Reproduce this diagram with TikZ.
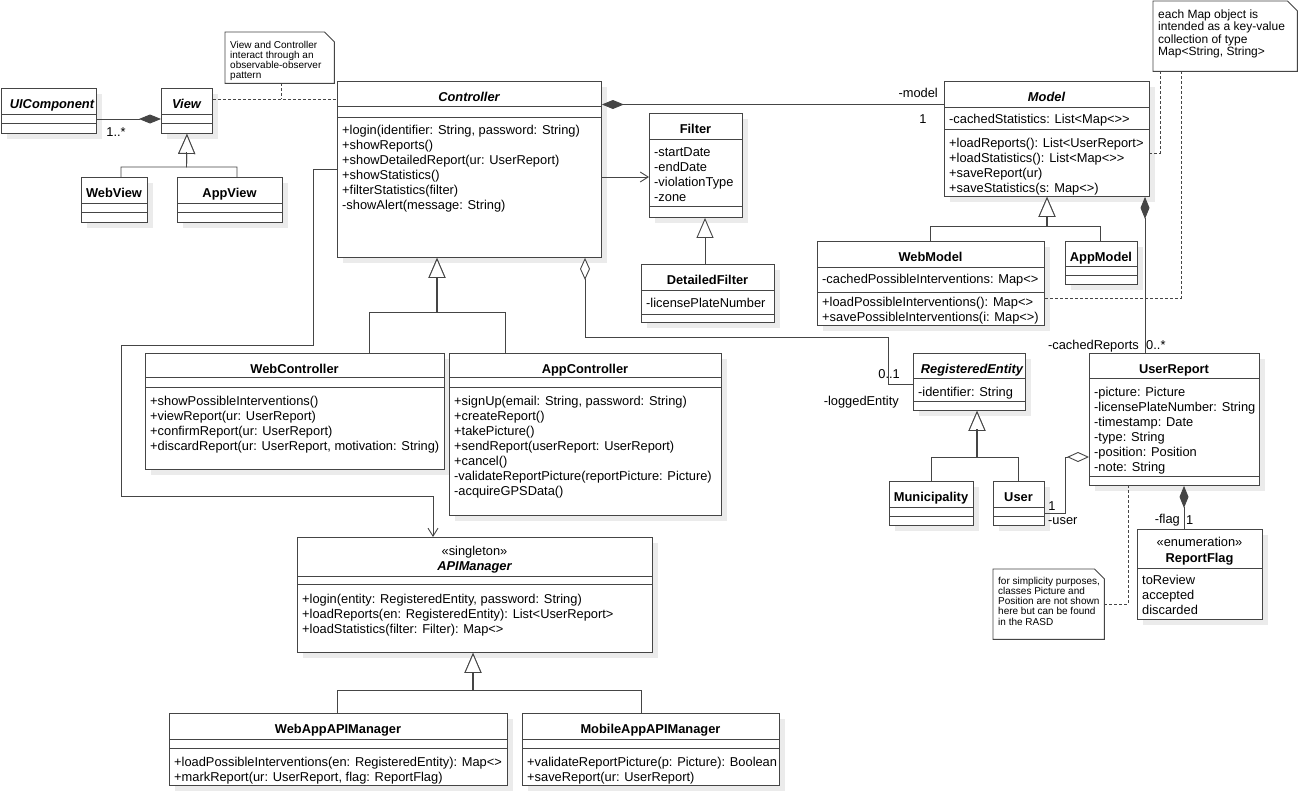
\documentclass[tikz,border=0pt]{standalone}
\usepackage{fontspec}
\setmainfont{Liberation Sans}
\usetikzlibrary{arrows.meta}
\definecolor{ln}{HTML}{454545}
\definecolor{shd}{HTML}{EBEBEB}
\newcommand\ml[1]{\begin{tabular}[t]{@{}l@{}}#1\end{tabular}}
\newcommand\umlbox[7]{%
  \fill[shd] (#2+6,#3+6) rectangle (#4+6,#5+6);
  \node[box, minimum width={#4-#2}, minimum height={#5-#3}] (#1) at (#2,#3) {};
  \draw[div] (#2,#6) -- (#4,#6) (#2,#7) -- (#4,#7);
}
\newcommand\umlnote[5]{%
  \node[inner sep=0, minimum width={#4-#2}, minimum height={#5-#3}, anchor=north west] (#1) at (#2,#3) {};
  \draw[div, fill=white] (#1.north west) -- ([xshift=-10pt]#1.north east) -- ([yshift=-10pt]#1.north east) -- (#1.south east) -- (#1.south west) -- cycle;
}
\tikzset{
 every node/.style={font=\fontsize{12.85}{15}\selectfont, inner sep=0},
 box/.style={draw=ln, line width=0.9pt, fill=white, inner sep=0, anchor=north west},
 div/.style={draw=ln, line width=0.9pt},
 ttl/.style={anchor=base, font=\fontsize{12.85}{15}\selectfont\bfseries},
 ttli/.style={anchor=base, font=\fontsize{12.85}{15}\selectfont\bfseries\itshape},
 mem/.style={anchor=base west},
 lbl/.style={anchor=center},
 con/.style={draw=ln, line width=0.9pt},
 stem/.style={draw=ln, line width=1.8pt},
 comp/.style={con, {Diamond[length=22pt,width=9pt,fill=ln]}-},
 aggr/.style={con, {Diamond[length=22pt,width=10pt,fill=white]}-},
 gen/.style={con, -{Triangle[length=20pt,width=17pt,fill=white]}},
 nav/.style={con, -{Straight Barb[length=8pt,width=10pt]}},
 dep/.style={draw=ln, line width=0.9pt, dash pattern=on 3pt off 2pt},
 notetxt/.style={anchor=base west, font=\fontsize{10}{9.7}\selectfont},
}
\begin{document}
\begin{tikzpicture}[x=1pt,y=-1pt]
\useasboundingbox (0,0) rectangle (1298,792);

% ---------- boxes ----------
\umlbox{uic}{1}{88}{96}{133}{114}{123}
\umlbox{view}{161}{88}{212}{133}{114}{123}
\umlbox{webview}{81}{177}{147}{222}{203}{212}
\umlbox{appview}{177}{177}{282}{222}{203}{212}
\umlbox{ctrl}{337}{81}{601}{257}{106}{117}
\umlbox{filter}{649}{113}{742}{217}{139}{206}
\umlbox{dfilter}{641}{264}{774}{322}{290}{314}
\umlbox{model}{944}{81}{1149}{196}{107}{129}
\umlbox{webmodel}{817}{241}{1044}{325}{267}{292}
\umlbox{appmodel}{1065}{241}{1137}{284}{266}{275}
\umlbox{regent}{913}{353}{1025}{410}{378}{401}
\umlbox{muni}{889}{481}{973}{525}{507}{516}
\umlbox{user}{993}{481}{1044}{525}{507}{516}
\umlbox{urep}{1089}{353}{1259}{485}{378}{476}
\umlbox{rflag}{1137}{529}{1262}{619}{568}{568}
\umlbox{webctrl}{145}{353}{444}{469}{377}{387}
\umlbox{appctrl}{449}{353}{721}{515}{377}{387}
\umlbox{api}{297}{537}{652}{652}{576}{584}
\umlbox{webapi}{169}{713}{507}{785}{739}{748}
\umlbox{mobapi}{522}{713}{779}{785}{739}{748}

% ---------- titles ----------
\node[ttli] (uic-t) at (52,108.5) {UIComponent};
\node[ttli] (view-t) at (186.5,108.5) {View};
\node[ttl] (webview-t) at (114,197.5) {WebView};
\node[ttl] (appview-t) at (229.5,197.5) {AppView};
\node[ttli] (ctrl-t) at (469,101.5) {Controller};
\node[ttl] (filter-t) at (695.5,133.5) {Filter};
\node[ttl] (dfilter-t) at (707.5,284.5) {DetailedFilter};
\node[ttli] (model-t) at (1046.5,101.5) {Model};
\node[ttl] (webmodel-t) at (930.5,261.5) {WebModel};
\node[ttl] (appmodel-t) at (1101,261.5) {AppModel};
\node[ttli] (regent-t) at (972,373.5) {RegisteredEntity};
\node[ttl] (muni-t) at (931,501.5) {Municipality};
\node[ttl] (user-t) at (1018.5,501.5) {User};
\node[ttl] (urep-t) at (1174,373.5) {UserReport};
\node[anchor=base] (rflag-s) at (1199.5,546.5) {«enumeration»};
\node[ttl] (rflag-t) at (1199.5,562.5) {ReportFlag};
\node[ttl] (webctrl-t) at (294.5,373.5) {WebController};
\node[ttl] (appctrl-t) at (585,373.5) {AppController};
\node[anchor=base] (api-s) at (474.5,555.5) {«singleton»};
\node[ttli] (api-t) at (474.5,570.5) {APIManager};
\node[ttl] (webapi-t) at (338,733.5) {WebAppAPIManager};
\node[ttl] (mobapi-t) at (650.5,733.5) {MobileAppAPIManager};

% ---------- members ----------
\node[mem] (ctrl-m) at (342,134.5) {\ml{+login(identifier: String, password: String)\\+showReports()\\+showDetailedReport(ur: UserReport)\\+showStatistics()\\+filterStatistics(filter)\\-showAlert(message: String)}};
\node[mem] (filter-a) at (654,156.5) {\ml{-startDate\\-endDate\\-violationType\\-zone}};
\node[mem] (dfilter-a) at (646,307) {-licensePlateNumber};
\node[mem] (model-a) at (949,123.5) {-cachedStatistics: List<Map<>{}>};
\node[mem] (model-m) at (949,147.5) {\ml{+loadReports(): List<UserReport>\\+loadStatistics(): List<Map<>{}>\\+saveReport(ur)\\+saveStatistics(s: Map<>)}};
\node[mem] (webmodel-a) at (822,283.5) {-cachedPossibleInterventions: Map<>};
\node[mem] (webmodel-m) at (822,306.5) {\ml{+loadPossibleInterventions(): Map<>\\+savePossibleInterventions(i: Map<>)}};
\node[mem] (regent-a) at (918,396) {-identifier: String};
\node[mem] (urep-a) at (1094,396.5) {\ml{-picture: Picture\\-licensePlateNumber: String\\-timestamp: Date\\-type: String\\-position: Position\\-note: String}};
\node[mem] (rflag-a) at (1142,584.5) {\ml{toReview\\accepted\\discarded}};
\node[mem] (webctrl-m) at (150,405.5) {\ml{+showPossibleInterventions()\\+viewReport(ur: UserReport)\\+confirmReport(ur: UserReport)\\+discardReport(ur: UserReport, motivation: String)}};
\node[mem] (appctrl-m) at (454,405.5) {\ml{+signUp(email: String, password: String)\\+createReport()\\+takePicture()\\+sendReport(userReport: UserReport)\\+cancel()\\-validateReportPicture(reportPicture: Picture)\\-acquireGPSData()}};
\node[mem] (api-m) at (302,603.5) {\ml{+login(entity: RegisteredEntity, password: String)\\+loadReports(en: RegisteredEntity): List<UserReport>\\+loadStatistics(filter: Filter): Map<>}};
\node[mem] (webapi-m) at (174,766.5) {\ml{+loadPossibleInterventions(en: RegisteredEntity): Map<>\\+markReport(ur: UserReport, flag: ReportFlag)}};
\node[mem] (mobapi-m) at (527,766.5) {\ml{+validateReportPicture(p: Picture): Boolean\\+saveReport(ur: UserReport)}};

% ---------- notes ----------
\umlnote{n1}{225}{32}{334}{83}
\node[notetxt] (n1-t) at (230,48.5) {\ml{View and Controller\\interact through an\\observable-observer\\pattern}};
\umlnote{n2}{1153}{1}{1297}{71}
\node[notetxt, font=\fontsize{12}{12}\selectfont] (n2-t) at (1158,18.5) {\ml{each Map object is\\intended as a key-value\\collection of type\\Map<String, String>}};
\umlnote{n3}{993}{569}{1104}{639}
\node[notetxt] (n3-t) at (998,584.5) {\ml{for simplicity purposes,\\classes Picture and\\Position are not shown\\here but can be found\\in the RASD}};

% ---------- connectors ----------
\draw[comp] (view.west |- 0,119) -- (uic.east |- 0,119);
\node[lbl] (l-uic) at (116,132) {1..*};
\draw[dep] (view.east |- 0,99) -- (ctrl.west |- 0,99);
\draw[dep] (281,0 |- n1.south) -- (281,99);
\draw[gen] (121,0 |- webview.north) -- (121,167) -- (186.5,167) -- (view.south);
\draw[gen] (237,0 |- appview.north) -- (237,167) -- (186.5,167) -- (view.south);
\draw[stem] (186.5,167) -- (186.5,152);

\draw[comp] (ctrl.east |- 0,104.5) -- (model.west |- 0,104.5);
\node[anchor=east] (l-model) at (938,93) {-model};
\node[lbl] (l-model1) at (923,119) {1};
\draw[nav] (ctrl.east |- 0,177) -- (filter.west |- 0,177);
\draw[aggr] (585,0 |- ctrl.south) -- (585,337) -- (888,337) -- (888,384) -- (regent.west |- 0,384);
\node[anchor=east] (l-re1) at (900,374) {0..1};
\node[anchor=east] (l-re2) at (899,402) {-loggedEntity};
\draw[nav] (ctrl.west |- 0,169) -- (313,169) -- (313,345) -- (121,345) -- (121,496) -- (433,496) -- (433,0 |- api.north);

\draw[gen] (369,0 |- webctrl.north) -- (369,312) -- (437,312) -- (437,0 |- ctrl.south);
\draw[gen] (505,0 |- appctrl.north) -- (505,312) -- (437,312) -- (437,0 |- ctrl.south);
\draw[stem] (437,312) -- (437,277);
\draw[gen] (705,0 |- dfilter.north) -- (705,0 |- filter.south);
\draw[gen] (930,0 |- webmodel.north) -- (930,226) -- (1047,226) -- (1047,0 |- model.south);
\draw[gen] (1100,0 |- appmodel.north) -- (1100,226) -- (1047,226) -- (1047,0 |- model.south);
\draw[stem] (1047,226) -- (1047,216);

\draw[comp] (1145,0 |- model.south) -- (1145,0 |- urep.north);
\node[anchor=east] (l-cr) at (1139,346) {-cachedReports};
\node[anchor=west] (l-cr1) at (1146,345) {0..*};
\draw[dep] (1160,0 |- n2.south) -- (1160,153) -- (model.east |- 0,153);
\draw[dep] (1181,0 |- n2.south) -- (1181,298) -- (webmodel.east |- 0,298);

\draw[gen] (931,0 |- muni.north) -- (931,457) -- (977,457) -- (977,0 |- regent.south);
\draw[gen] (1018,0 |- user.north) -- (1018,457) -- (977,457) -- (977,0 |- regent.south);
\draw[stem] (977,457) -- (977,429);
\draw[aggr] (urep.west |- 0,457) -- (1065,457) -- (1065,513) -- (user.east |- 0,513);
\node[lbl] (l-u1) at (1052,506) {1};
\node[anchor=west] (l-u2) at (1048,521) {-user};
\draw[comp] (1184,0 |- urep.south) -- (1184,0 |- rflag.north);
\node[anchor=east] (l-f1) at (1180,520) {-flag};
\node[anchor=west] (l-f2) at (1186,520) {1};
\draw[dep] (n3.east |- 0,604) -- (1128,604) -- (1128,0 |- urep.south);

\draw[gen] (337,0 |- webapi.north) -- (337,690) -- (473,690) -- (473,0 |- api.south);
\draw[gen] (641,0 |- mobapi.north) -- (641,690) -- (473,690) -- (473,0 |- api.south);
\draw[stem] (473,690) -- (473,672);
\end{tikzpicture}
\end{document}
